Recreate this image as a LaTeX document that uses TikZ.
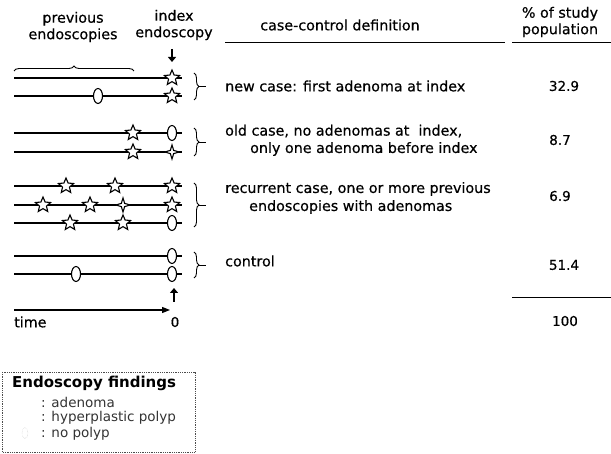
\documentclass[tikz,border=0pt]{standalone}
\usepackage{fontspec}
\setmainfont{DejaVu Sans}[UprightFeatures={FakeBold=0.5}]
\newfontfamily\lgfont{DejaVu Sans}
\usetikzlibrary{shapes.geometric,decorations.pathreplacing,arrows.meta}
\begin{document}
\begin{tikzpicture}[x=1pt,y=-1pt,
  font=\fontsize{14.3}{16.5}\selectfont,
  tl/.style={line width=1.2pt},
  adenoma/.style={star, star points=5, star point ratio=2.2, minimum size=16pt, inner sep=0pt, draw, fill=white, line width=1.1pt},
  hyper/.style={star, star points=4, star point ratio=3, minimum size=14pt, inner sep=0pt, draw, fill=white, line width=1.1pt},
  nopolyp/.style={ellipse, minimum width=9pt, minimum height=15pt, inner sep=0pt, draw, fill=white, line width=1.1pt},
  grp/.style={decorate, decoration={brace, amplitude=5pt}, line width=0.9pt},
  lbl/.style={anchor=west, inner sep=0pt},
  num/.style={inner sep=0pt, font=\fontsize{13.5}{16}\selectfont},
  hdr/.style={inner sep=0pt, align=center},
  lgitem/.style={anchor=west, inner sep=0pt, font=\lgfont\fontsize{13.5}{15}\selectfont, text=black!80},
  bigarrow/.style={-{Triangle[length=5pt,width=8pt]}, line width=2.6pt},
]
\useasboundingbox (0,0) rectangle (611,454);

% headers
\node[hdr] (hprev) at (73,27) {previous\\endoscopies};
\node[hdr] (hidx) at (174,25) {index\\endoscopy};
\node[hdr] (hdef) at (340,25) {case-control definition};
\node[hdr] (hpct) at (560,22) {\% of study\\population};
\coordinate (u1a) at (225,43); \coordinate (u1b) at (505,43);
\coordinate (u2a) at (512,43); \coordinate (u2b) at (611,43);
\draw[line width=1pt] (u1a) -- (u1b);
\draw[line width=1pt] (u2a) -- (u2b);

% index arrow
\coordinate (da) at (172,49); \coordinate (db) at (172,62);
\draw[bigarrow] (da) -- (db);

% brace over previous endoscopies
\coordinate (pb1) at (14,71); \coordinate (pb2) at (134,71);
\draw[grp] (pb1) -- (pb2);

% ---- row 1
\coordinate (r1a) at (14,78); \coordinate (r1b) at (182,78);
\coordinate (r2a) at (14,96); \coordinate (r2b) at (182,96);
\draw[tl] (r1a) -- (r1b); \draw[tl] (r2a) -- (r2b);
\node[adenoma] (s11) at (172,78) {};
\node[nopolyp] (o21) at (98,96) {};
\node[adenoma] (s22) at (172,96) {};
\coordinate (b1a) at (194,73); \coordinate (b1b) at (194,100);
\draw[grp] (b1a) -- (b1b);
\coordinate (t1a) at (199,86.5); \coordinate (t1b) at (206,86.5);
\draw[line width=0.9pt] (t1a) -- (t1b);
\node[lbl] (l1) at (225,86) {new case: first adenoma at index};
\node[num] (n1) at (564,86) {32.9};

% ---- row 2
\coordinate (r3a) at (14,133); \coordinate (r3b) at (182,133);
\coordinate (r4a) at (14,152); \coordinate (r4b) at (182,152);
\draw[tl] (r3a) -- (r3b); \draw[tl] (r4a) -- (r4b);
\node[adenoma] (s31) at (133,133) {};
\node[nopolyp] (o32) at (172,133) {};
\node[adenoma] (s41) at (133,152) {};
\node[hyper] (h42) at (172,152) {};
\coordinate (b2a) at (194,128); \coordinate (b2b) at (194,156);
\draw[grp] (b2a) -- (b2b);
\coordinate (t2a) at (199,142) ; \coordinate (t2b) at (206,142);
\draw[line width=0.9pt] (t2a) -- (t2b);
\node[lbl] (l2a) at (225,131) {old case, no adenomas at\ \ index,};
\node[lbl] (l2b) at (250,149) {only one adenoma before index};
\node[num] (n2) at (560,140) {8.7};

% ---- row 3
\coordinate (r5a) at (14,186); \coordinate (r5b) at (182,186);
\coordinate (r6a) at (14,205); \coordinate (r6b) at (182,205);
\coordinate (r7a) at (14,223); \coordinate (r7b) at (182,223);
\draw[tl] (r5a) -- (r5b); \draw[tl] (r6a) -- (r6b); \draw[tl] (r7a) -- (r7b);
\node[adenoma] (s51) at (66,186) {};
\node[adenoma] (s52) at (115,186) {};
\node[adenoma] (s53) at (172,186) {};
\node[adenoma] (s61) at (43,205) {};
\node[adenoma] (s62) at (90,205) {};
\node[hyper] (h63) at (123,205) {};
\node[adenoma] (s64) at (172,205) {};
\node[adenoma] (s71) at (70,223) {};
\node[adenoma] (s72) at (123,223) {};
\node[nopolyp] (o73) at (172,223) {};
\coordinate (b3a) at (194,183); \coordinate (b3b) at (194,227);
\draw[grp] (b3a) -- (b3b);
\coordinate (t3a) at (199,205); \coordinate (t3b) at (206,205);
\draw[line width=0.9pt] (t3a) -- (t3b);
\node[lbl] (l3a) at (225,189) {recurrent case, one or more previous};
\node[lbl] (l3b) at (249,207) {endoscopies with adenomas};
\node[num] (n3) at (560,196) {6.9};

% ---- row 4
\coordinate (r8a) at (14,256); \coordinate (r8b) at (182,256);
\coordinate (r9a) at (14,274); \coordinate (r9b) at (182,274);
\draw[tl] (r8a) -- (r8b); \draw[tl] (r9a) -- (r9b);
\node[nopolyp] (o81) at (172,256) {};
\node[nopolyp] (o91) at (76,274) {};
\node[nopolyp] (o92) at (172,274) {};
\coordinate (b4a) at (194,252); \coordinate (b4b) at (194,278);
\draw[grp] (b4a) -- (b4b);
\coordinate (t4a) at (199,265); \coordinate (t4b) at (206,265);
\draw[line width=0.9pt] (t4a) -- (t4b);
\node[lbl] (l4) at (225,261) {control};
\node[num] (n4) at (564,265) {51.4};

% total
\coordinate (tla) at (512,298); \coordinate (tlb) at (611,298);
\draw[line width=1pt] (tla) -- (tlb);
\node[num] (ntot) at (565,321) {100};

% time axis
\coordinate (ua) at (174,302); \coordinate (ub) at (174,288);
\draw[bigarrow] (ua) -- (ub);
\coordinate (ta) at (14,310); \coordinate (tb) at (170,310);
\draw[line width=1.2pt,-{Triangle[length=8pt,width=6pt]}] (ta) -- (tb);
\node[lbl] (time) at (14,322) {time};
\node[num] (zero) at (175,322) {0};

% legend
\coordinate (lga) at (2,372); \coordinate (lgb) at (195,452);
\draw[densely dotted, line width=0.8pt, black!70] (lga) rectangle (lgb);
\node[lbl, font=\fontsize{15}{17}\selectfont\bfseries] (lgt) at (12,383) {Endoscopy findings};
\node[lgitem] (lg1) at (41,402) {: adenoma};
\node[lgitem] (lg2) at (41,418) {: hyperplastic polyp};
\node[lgitem] (lg3) at (41,434) {: no polyp};
\node[ellipse, minimum width=6pt, minimum height=11pt, inner sep=0pt, draw=black!25, densely dotted] (lgo) at (25,433) {};
\end{tikzpicture}
\end{document}
